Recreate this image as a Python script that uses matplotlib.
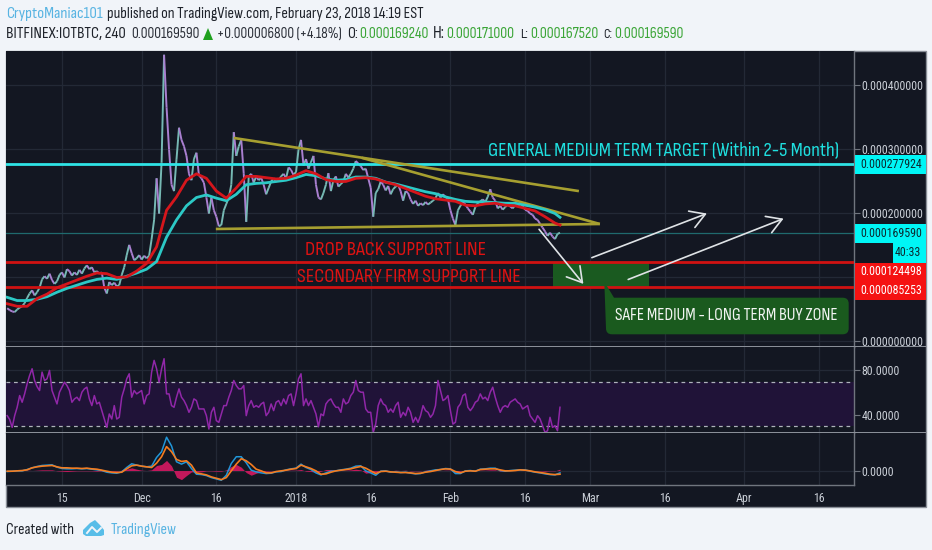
import numpy as np
import matplotlib
matplotlib.use("Agg")
import matplotlib.pyplot as plt
from matplotlib.collections import LineCollection
from matplotlib.patches import Rectangle, Polygon, PathPatch
from matplotlib.path import Path
from matplotlib.font_manager import fontManager

# ---------- data (days since 15 Nov 2017; prices in 1e-6 BTC) ----------
price_start_day = -11
price_step_days = 0.5
price = [52,49,47,46,50,53,55,60,68,75,80,72,77,84,97,102,98,106,96,90,
 94,104,108,100,113,110,103,108,104,112,106,114,119,113,116,108,110,106,108,84,
 75,93,88,92,86,88,104,116,135,151,138,127,130,135,128,134,130,134,160,190,
 255,200,280,448,366,300,245,235,285,334,315,305,290,262,252,285,295,260,255,248,
 225,200,225,205,195,180,182,205,215,225,245,327,290,305,315,262,187,258,262,248,
 258,252,256,245,230,240,250,255,250,252,258,262,255,272,268,260,265,300,315,275,
 285,270,280,290,245,225,222,232,245,263,235,252,258,242,246,250,262,256,262,270,
 282,278,274,268,270,255,240,195,232,238,250,245,236,243,230,238,242,245,235,220,
 235,232,222,215,220,212,216,213,218,214,217,220,224,232,225,230,226,222,205,192,
 182,205,212,218,214,208,203,198,210,216,219,222,218,226,238,225,220,208,212,206,
 210,214,211,208,213,214,210,212,206,204,200,198,192,190,184,178,172,165,170,164,
 160,168,170]
ma_days = list(range(-11, 100, 2)) + [100]
ma_slow = [69,64,64,66,70,77,83,88,93,97,99,97,102,107,113,125,163,190,212,225,229,224,220,230,
 245,247,248,250,252,256,261,259,254,252,253,257,257,255,249,246,242,238,234,231,226,222,219,
 218,218,217,216,216,213,210,206,200,194]
ma_fast = [59,55,55,67,74,84,90,96,102,107,106,100,101,110,122,148,205,226,252,262,255,235,224,240,
 258,258,256,254,255,260,267,262,253,250,250,255,256,254,249,245,239,233,227,223,221,219,213,
 212,215,216,213,212,208,204,195,185,182]
rsi = [39.5,36,29,39.5,47,57.5,51.5,59,68,75.5,81.5,71,65.5,62,78.5,71,72.5,80,62,56,
 50,60.5,65,69.5,66.5,62,51.5,54.5,56,53,60.5,63.5,65,54.5,48.5,57.5,50,51.5,44,36.5,
 29,41,36.5,48.5,36.5,38,56,63.5,72.5,77,56,62,59,60.5,62,50,57.5,59,78.5,89,
 81.5,69.5,81.5,90.5,59,59,48.5,47,56,63.5,56,53,48.5,42.5,47,54.5,53,45.5,45.5,45.5,
 39.5,27.5,42.5,47,35,33.5,41,48.5,48.5,56,62,71,66.5,63.5,63.5,66.5,39.5,48.5,53,47,
 48.5,47,50,51.5,39.5,42.5,50,44,51.5,53,48.5,54.5,50,57.5,59,48.5,59,72.5,77,48.5,
 54.5,48.5,53,47,41,29.5,41,39.5,50,53,54.5,50,47,47,42.5,54.5,50,51.5,57.5,60.5,
 71,62,60.5,60.5,45.5,42.5,42.5,24.5,32,48.5,54.5,50,48.5,42.5,45.5,42.5,48.5,51.5,38,42.5,
 39.5,47,42.5,33.5,38,33.5,39.5,48.5,44,42.5,38,41,48.5,71,62,53,54.5,57.5,44,32,
 33.5,47,50,57.5,59,47,44,47,51.5,53,59,54.5,56,53,60.5,65,56,48.5,42.5,47,
 48.5,47,51.5,53,54.5,51.5,50,45.5,47,48.5,39.5,36.5,33.5,39.5,36.5,30.5,24.5,26,38,29,
 30.5,26,47]
macd_days = list(range(-11, 101))
macd_line = [-3,-2,-1,-1,3,8,12,15,16,17,10,6,5,5,6,5,6,4,2,0,-5,-7,-8,-4,9,20,16,13,11,13,
 39,56,99,73,26,19,26,6,-11,-12,-15,-21,-25,-29,-14,21,41,41,23,1,-4,-7,-9,-8,-4,-3,2,5,7,19,
 9,3,-7,-13,-7,-2,-1,2,4,7,13,14,-1,-7,-14,-2,-1,-5,-4,-6,-5,-8,-10,-9,-4,-1,2,3,6,5,
 -9,-9,-1,0,-2,4,5,7,7,0,-2,0,1,2,2,-2,-5,-7,-10,-12,-13,-7]
signal_line = [-2,-2,-1,0,2,8,11,13,14,15,11,8,8,7,7,6,7,5,4,1,-2,-5,-6,-5,5,14,16,13,11,9,
 22,41,71,56,33,27,29,16,-7,-10,-13,-19,-23,-27,-21,-1,19,35,29,18,4,-1,-7,-7,-3,-1,1,4,6,16,
 11,6,-1,-11,-10,-5,-1,1,3,5,9,12,7,-1,-9,-3,-2,-4,-5,-6,-6,-7,-9,-8,-5,-3,0,3,5,4,
 -3,-7,-2,-1,-2,3,4,5,5,2,-1,-1,0,2,1,-1,-4,-6,-8,-11,-12,-11]
histogram = [0,0,0,0,1,0,1,2,2,2,-1,-2,-3,-2,-1,-1,-1,-1,-2,-1,-3,-2,-2,1,4,8,4,1,0,2,
 15,18,30,14,-20,-27,-15,-4,-4,-4,-1,-1,-2,-2,2,12,18,10,-6,-14,-8,-4,-2,-1,0,-1,1,1,1,3,
 -2,-3,-5,-2,3,3,0,1,1,2,4,2,-8,-6,-5,1,1,-1,1,0,1,-1,-1,-1,1,2,2,0,1,1,
 -6,-2,1,1,0,1,1,2,2,-2,-1,1,1,0,1,-1,-1,-1,-2,-1,-1,4]
level_target, level_last, level_drop, level_firm = 277.924, 169.59, 124.498, 85.253
trend_upper = ([34.5, 103.8], [318, 235])
trend_mid = ([60.2, 108.0], [287, 183.6])
trend_low = ([30.9, 108.0], [175.8, 183.6])
buy_zone_days = (98.5, 117.9)
arrows = [((106.4, 131), (129.5, 200)), ((113.7, 96.9), (144.9, 192)), ((95.8, 175.3), (104.7, 90))]
tick_days = [0, 16, 31, 47, 62, 78, 93, 106, 121, 137, 152]
tick_labels = ["15", "Dec", "16", "2018", "16", "Feb", "16", "Mar", "16", "Apr", "16"]
price_ticks = [0, 100, 200, 300, 400]
rsi_ticks = [40, 80]

# ---------- figure ----------
W, H = 932, 550
PAGE, BG = "#f1f4f9", "#131722"
GRID, FRAME, LABEL = "#232936", "#70757e", "#c9ced6"
fig = plt.figure(figsize=(W/100, H/100), dpi=100, facecolor=PAGE)
have = {f.name for f in fontManager.ttflist}
def fams(*names):
    out = [n for n in names if n in have]
    return out or ["DejaVu Sans"]
fam_head = fams("Sofia Sans Condensed", "Sofia Sans Semi Condensed", "Roboto")
fam_note = fams("Sofia Sans Condensed", "Sofia Sans Semi Condensed", "Open Sans")
fam_num = fams("Roboto Condensed", "Sofia Sans Semi Condensed", "Roboto")
renderer = fig.canvas.get_renderer()

def fx(x): return x / W
def fy(y): return 1 - y / H

def fit(s, x0, x1, yc, color, family=None, weight="normal", zorder=20):
    t = fig.text(fx(x0), fy(yc), s, color=color, family=family or fam_head,
                 fontweight=weight, va="center", ha="left", fontsize=10, zorder=zorder)
    w = t.get_window_extent(renderer).width
    t.set_fontsize(10 * (x1 - x0) / w)
    return t

_probe = fig.text(0, 0, "0.000400000", family=fam_num, fontsize=10)
num_size = 10 * 61.0 / _probe.get_window_extent(renderer).width
_probe.remove()

def rect(x0, y0, x1, y1, **kw):
    p = Rectangle((fx(x0), fy(y1)), (x1-x0)/W, (y1-y0)/H, transform=fig.transFigure, **kw)
    fig.add_artist(p)
    return p

rect(6, 51, 926, 507, facecolor=BG, edgecolor="#8a8f98", lw=1, zorder=0)

def make_ax(y0, y1):
    ax = fig.add_axes([fx(6), fy(y1), 848/W, (y1-y0)/H], facecolor=BG)
    ax.set_xlim(-11.24, 159.04)
    ax.set_xticks(tick_days)
    ax.grid(True, color=GRID, lw=0.9)
    ax.set_axisbelow(True)
    for s in ("top", "left"):
        ax.spines[s].set_visible(False)
    for s in ("right", "bottom"):
        ax.spines[s].set_color(FRAME)
        ax.spines[s].set_linewidth(1.0)
    ax.yaxis.tick_right()
    ax.tick_params(axis="y", colors=FRAME, labelcolor=LABEL, length=4, width=0.8, pad=1.5)
    ax.tick_params(axis="x", length=0, labelbottom=False)
    return ax

# main price pane
ax = make_ax(51, 347)
ax.set_ylim(-8.6, 453.9)
ax.set_yticks(price_ticks)
# the 0.0001 label sits under the red price tags, as in the reference
ax.set_yticklabels(["" if v == 100 else f"{v*1e-6:.9f}" for v in price_ticks], fontsize=num_size, family=fam_num)
days = price_start_day + price_step_days * np.arange(len(price))
pts = np.column_stack([days, price])
segs = np.stack([pts[:-1], pts[1:]], axis=1)
cols = ["#76b9b4" if b >= a else "#a97fd0" for a, b in zip(price[:-1], price[1:])]
ax.add_collection(LineCollection(segs, colors=cols, linewidths=1.4, zorder=3))
ax.axhline(level_last, color="#1f6a6e", lw=0.9, zorder=2)
ax.fill_between(buy_zone_days, level_drop, level_firm, color="#1a5a20", lw=0, zorder=2)
ax.axhline(level_target, color="#2fe4e6", lw=2.0, zorder=4)
for lv in (level_drop, level_firm):
    ax.axhline(lv, color="#d01212", lw=2.0, zorder=4)
for tr in (trend_upper, trend_mid, trend_low):
    ax.plot(*tr, color="#a69f30", lw=1.9, zorder=5, solid_capstyle="butt")
ax.plot(ma_days, ma_slow, color="#2cc9c6", lw=2.0, zorder=6, solid_joinstyle="round")
ax.plot(ma_days, ma_fast, color="#d5161c", lw=2.0, zorder=6, solid_joinstyle="round")
for a, b in arrows:
    ax.annotate("", xy=b, xytext=a, zorder=7,
                arrowprops=dict(arrowstyle="->,head_length=0.75,head_width=0.45", color="#dfe3e6",
                                lw=1.2, shrinkA=0, shrinkB=0, mutation_scale=14))

# RSI pane
ax2 = make_ax(347, 432.5)
ax2.set_ylim(24.4, 101)
ax2.set_yticks(rsi_ticks)
ax2.set_yticklabels([f"{v:.4f}" for v in rsi_ticks], fontsize=num_size, family=fam_num)
ax2.axhspan(30, 70, color="#201338", lw=0, zorder=1)
for lv in (30, 70):
    ax2.axhline(lv, color="#aeb2bb", lw=0.9, dashes=(3, 3), zorder=2)
ax2.plot(days, rsi, color="#9027a8", lw=1.1, zorder=4)

# MACD pane
ax3 = make_ax(432.5, 485)
ax3.set_ylim(-43, 113)
ax3.set_yticks([0])
ax3.set_yticklabels(["0.0000"], fontsize=num_size, family=fam_num)
ax3.fill_between(macd_days, histogram, 0, color="#c2185b", lw=0, zorder=3)
ax3.plot(macd_days, macd_line, color="#2196d8", lw=1.1, zorder=4)
ax3.plot(macd_days, signal_line, color="#f57c1f", lw=1.2, zorder=5)
ax3.tick_params(axis="x", length=0, colors=FRAME, labelcolor=LABEL, labelbottom=True, pad=5)
ax3.set_xticklabels(tick_labels, fontsize=num_size, family=fam_num)

# pane separators across the price scale
rect(6, 346.4, 926, 347.4, facecolor="#8a8f98", lw=0, zorder=10)
rect(6, 432, 926, 433, facecolor="#8a8f98", lw=0, zorder=10)

# price-scale tags
rect(854.5, 155, 925.5, 173.5, facecolor="#00f6f6", lw=0, zorder=12)
rect(854.5, 224, 925.5, 243, facecolor="#00f6f6", lw=0, zorder=12)
rect(893, 243, 925.5, 262.5, facecolor="#00f6f6", lw=0, zorder=12)
rect(854.5, 262.5, 925.5, 299.5, facecolor="#f51212", lw=0, zorder=12)
for s, y, c in [("0.000277924", 164.3, "#0c2a30"), ("0.000169590", 233.3, "#0c2a30"),
                ("0.000124498", 271.5, "#ffffff"), ("0.000085253", 290.3, "#ffffff")]:
    fig.text(fx(860.5), fy(y), s, color=c, fontsize=num_size, family=fam_num, va="center", zorder=13)
fig.text(fx(895), fy(253), "40:33", color="#0c2a30", fontsize=num_size, family=fam_num, va="center", zorder=13)

# chart annotations
fit("GENERAL MEDIUM TERM TARGET (Within 2-5 Month)", 488, 840, 151.5, "#1fe0e0", fam_note)
fit("DROP BACK SUPPORT LINE", 305, 485, 250, "#de1212", fam_note)
fit("SECONDARY FIRM SUPPORT LINE", 297, 520, 277, "#de1212", fam_note)

# buy-zone callout
x0, y0, x1, y1, r = 606, 297.7, 848.7, 334.3, 6
verts = [(604.3, 281.7), (614, 297.7), (x1-r, y0), (x1, y0), (x1, y0+r), (x1, y1-r), (x1, y1), (x1-r, y1),
         (x0+r, y1), (x0, y1), (x0, y1-r), (604.3, 281.7), (604.3, 281.7)]
codes = [Path.MOVETO, Path.LINETO, Path.LINETO, Path.CURVE3, Path.CURVE3, Path.LINETO, Path.CURVE3, Path.CURVE3,
         Path.LINETO, Path.CURVE3, Path.CURVE3, Path.LINETO, Path.CLOSEPOLY]
fig.add_artist(PathPatch(Path([(fx(a), fy(b)) for a, b in verts], codes), transform=fig.transFigure,
                         facecolor="#1a5a1e", lw=0, zorder=14))
fit("SAFE MEDIUM - LONG TERM BUY ZONE", 615, 840, 315, "#f2f5f2", fam_note)

# header
DARK = "#1e222a"
fit("CryptoManiac101", 6, 103, 14, "#58b4e2")
fit("published on TradingView.com, February 23, 2018 14:19 EST", 107, 424, 14, DARK)
fit("BITFINEX:IOTBTC, 240", 6, 126, 34, DARK, weight="bold")
fit("0.000169590", 131, 200, 34, "#2b2f38")
fig.add_artist(Polygon([(fx(203), fy(40)), (fx(213), fy(40)), (fx(208), fy(28))], transform=fig.transFigure,
                       facecolor="#1fa01f", lw=0))
fit("+0.000006800 (+4.18%)", 217, 342, 34, "#2b2f38")
GREEN = "#3aa536"
for lab, a, b, val, c, d in [("O:", 347, 358, "0.000169240", 359, 429), ("H:", 433, 445, "0.000171000", 446, 515),
                             ("L:", 520, 528, "0.000167520", 530, 599), ("C:", 603, 612, "0.000169590", 614, 684)]:
    fit(lab, a, b, 34, DARK, weight="bold")
    fit(val, c, d, 34, GREEN)

# footer
fit("Created with", 6, 74, 529.5, DARK)
fit("TradingView", 111, 177, 530, "#58b4e2")
logo = [(83, 534), (83, 530), (90, 523), (95, 520), (100, 525), (104, 530), (104, 535), (101, 536), (86, 536)]
fig.add_artist(Polygon([(fx(a), fy(b)) for a, b in logo], transform=fig.transFigure, facecolor="#58bde8", lw=0))
fig.add_artist(plt.Line2D([fx(a) for a in (87, 92, 97, 101)], [fy(b) for b in (533, 527, 532, 528)],
                          transform=fig.transFigure, color=PAGE, lw=1.4))

fig.savefig("out.png", dpi=100, facecolor=PAGE)
